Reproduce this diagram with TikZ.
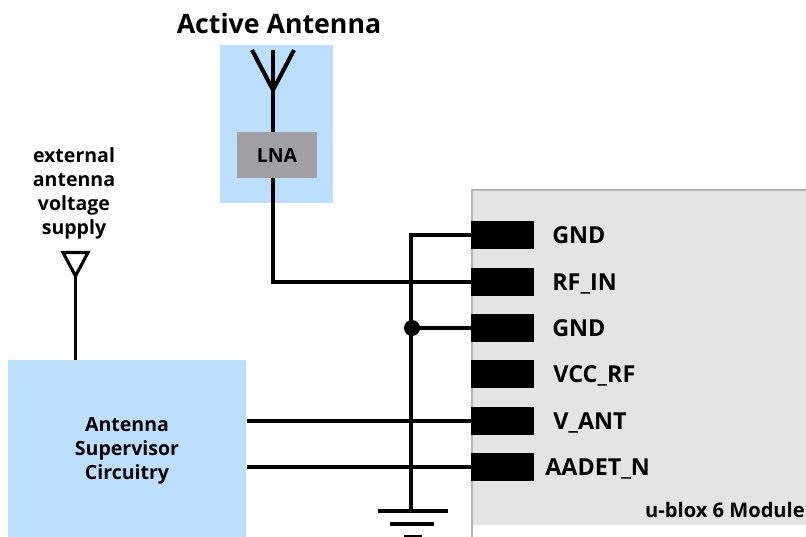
\documentclass[tikz,border=0pt]{standalone}
\usepackage{fontspec}
\setsansfont{Open Sans}
\usetikzlibrary{positioning, calc}

\definecolor{antblue}{HTML}{BDDFFF}
\definecolor{lnagray}{HTML}{A09FA3}
\definecolor{modgray}{HTML}{E4E4E4}
\definecolor{modedge}{HTML}{B4B4B4}

\tikzset{
    bluebox/.style={fill=antblue, draw=none, inner sep=0pt, anchor=north west},
    pinbox/.style={fill=black, draw=none, inner sep=0pt, minimum width=63*0.025cm, minimum height=28*0.025cm, anchor=west},
    pinlabel/.style={font=\sffamily\bfseries\fontsize{16.6}{20}\selectfont, anchor=base west, inner sep=0pt},
    wire/.style={line width=2.9pt, black},
    thinwire/.style={line width=2.4pt, black}
}

\begin{document}
\begin{tikzpicture}[x=0.025cm, y=-0.025cm]

    % 页面范围
    \useasboundingbox (0,0) rectangle (806,537);

    % 模块底板
    \fill[modgray] (472,190) rectangle (806,525);
    \draw[modedge, line width=0.9pt] (472,537) -- (472,190) -- (806,190);
    \node[font=\sffamily\bfseries\fontsize{14.3}{17}\selectfont, anchor=base east, inner sep=0pt] (modname) at (805,517) {u-blox 6 Module};

    % 有源天线框
    \node[bluebox, minimum width=113*0.025cm, minimum height=158*0.025cm] (antbox) at (220,45) {};
    \node[fill=lnagray, inner sep=0pt, minimum width=80*0.025cm, minimum height=46*0.025cm, font=\sffamily\bfseries\fontsize{13.9}{16}\selectfont] (lna) at (277,155) {LNA};
    \node[font=\sffamily\bfseries\fontsize{19}{22}\selectfont, inner sep=0pt, anchor=base] (anttitle) at (279,34) {Active Antenna};

    % 监控电路框
    \node[bluebox, minimum width=238*0.025cm, minimum height=177*0.025cm] (supervisor) at (8,360) {};
    \node[font=\sffamily\bfseries\fontsize{13.9}{17}\selectfont, align=center, inner sep=0pt] (supertext) at (127,451) {Antenna\\Supervisor\\Circuitry};

    % 外部电源标签
    \node[font=\sffamily\bfseries\fontsize{13.9}{17.2}\selectfont, align=center, inner sep=0pt, anchor=north] (supplytext) at (74,147) {external\\antenna\\voltage\\supply};

    % 循环生成引脚
    \foreach \name/\ypos/\xlab/\lab in {gnda/235/552/GND, rfin/282/552/RF\_IN, gndb/328/552/GND, vccrf/374/553/VCC\_RF, vant/421/553/V\_ANT, aadet/467/545/AADET\_N}
    {
        \node[pinbox] (\name) at (471,\ypos) {};
        \node[pinlabel] (\name label) at (\xlab,\ypos+8) {\lab};
    }

    % 天线
    \coordinate (antfoot) at (273,90);
    \coordinate (anttip) at (273,50);
    \coordinate (antleft) at (252,50);
    \coordinate (antright) at (294,50);
    \draw[wire] (anttip) -- (lna.north -| anttip);
    \draw[wire, line join=miter] (antleft) -- (antfoot) -- (antright);

    % LNA 到 RF_IN
    \draw[wire] (lna.south -| anttip) -- (anttip |- rfin.west) -- (rfin.west);

    % 接地总线
    \coordinate (gndtop) at (411,235);
    \coordinate (gndbot) at (411,511);
    \coordinate (dot) at (412,328);
    \draw[wire] (gnda.west) -- (gndtop) -- (gndbot);
    \draw[thinwire] (gndb.west) -- (dot);
    \fill (dot) circle (8);

    % 接地符号
    \coordinate (gnd1l) at (378,511);
    \coordinate (gnd1r) at (448,511);
    \coordinate (gnd2l) at (390,524);
    \coordinate (gnd2r) at (434,524);
    \coordinate (gnd3l) at (404,537);
    \coordinate (gnd3r) at (422,537);
    \draw[wire] (gnd1l) -- (gnd1r);
    \draw[wire] (gnd2l) -- (gnd2r);
    \draw[wire] (gnd3l) -- (gnd3r);

    % 监控电路到模块
    \draw[thinwire] (supervisor.east |- vant.west) -- (vant.west);
    \draw[thinwire] (supervisor.east |- aadet.west) -- (aadet.west);

    % 外部电源符号
    \coordinate (supleft) at (63,252.5);
    \coordinate (supright) at (88,252.5);
    \coordinate (supfoot) at (75.5,276);
    \draw[line width=2.2pt, line join=miter] (supleft) -- (supright) -- (supfoot) -- cycle;
    \draw[wire, line width=2.6pt] (supfoot) -- (supfoot |- supervisor.north);

\end{tikzpicture}
\end{document}
